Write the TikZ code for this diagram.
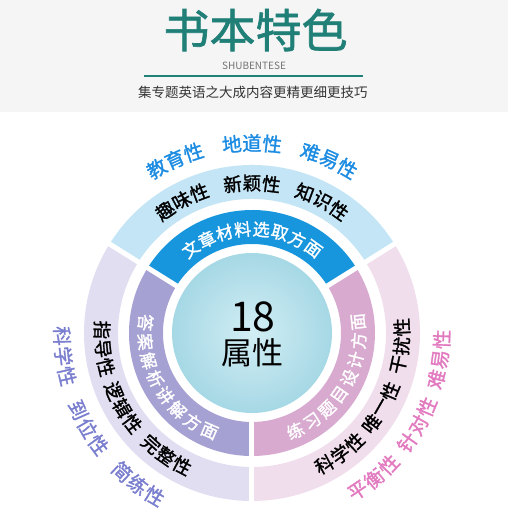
\documentclass[tikz,border=0pt]{standalone}
\usepackage{fontspec}
\setmainfont{Noto Sans CJK SC}
\newfontfamily\semifont{Noto Sans CJK SC}[FakeBold=1.4]
\usetikzlibrary{positioning}
\definecolor{headteal}{RGB}{32,128,120}
\definecolor{headgray}{RGB}{245,245,245}
\definecolor{bandblue}{RGB}{24,150,221}
\definecolor{bandpurple}{RGB}{166,161,211}
\definecolor{bandpink}{RGB}{216,170,208}
\definecolor{ringblue}{RGB}{196,229,246}
\definecolor{ringpurple}{RGB}{225,222,241}
\definecolor{ringpink}{RGB}{241,222,237}
\definecolor{wordblue}{RGB}{28,140,226}
\definecolor{wordpurple}{RGB}{122,126,206}
\definecolor{wordpink}{RGB}{226,122,192}
\newcommand{\sector}[5]{\fill[#1] (#2:#4) arc[start angle=#2, end angle=#3, radius=#4] -- (#3:#5) arc[start angle=#3, end angle=#2, radius=#5] -- cycle}
\newcommand{\topword}[6]{\foreach \ch [count=\i, evaluate=\i as \a using {#2+((#4+1)/2-\i)*#3}] in {#6} \node[#5, rotate=\a-90] at (\a:#1) {\ch};}
\newcommand{\botword}[6]{\foreach \ch [count=\i, evaluate=\i as \a using {#2-((#4+1)/2-\i)*#3}] in {#6} \node[#5, rotate=\a+90] at (\a:#1) {\ch};}
\begin{document}
\begin{tikzpicture}[
        x=1pt, y=1pt,
        every node/.style={inner sep=0pt},
        bandtext/.style={text=white, font=\semifont\fontsize{17}{17}\selectfont},
        ringtext/.style={text=black, font=\semifont\fontsize{18.5}{18.5}\selectfont},
        outtext/.style={font=\semifont\fontsize{19.5}{19.5}\selectfont},
        gap/.style={draw=white, line width=5pt}
      ]
      \useasboundingbox (-252,-187) rectangle (256,333);
      % header
      \fill[headgray] (-252,221) rectangle (256,333);
      \node (title) at (3.5,303) [text=headteal, font=\semifont\fontsize{46}{46}\selectfont] {书本特色};
      \node (pinyin) at (2,267) [text=black!55, font=\fontsize{10}{10}\selectfont] {SHUBENTESE};
      \coordinate (rulel) at (-108,257);
      \coordinate (ruler) at (111,257);
      \draw[headteal, line width=2pt] (rulel) -- (ruler);
      \node (slogan) at (1,241) [text=black!80, font=\fontsize{13.5}{13.5}\selectfont] {集专题英语之大成内容更精更细更技巧};
      % rings
      \sector{ringblue}{32}{148}{134}{168};
      \sector{ringpurple}{148}{270}{134}{168};
      \sector{ringpink}{270}{392}{134}{168};
      \sector{bandblue}{32}{148}{89}{123};
      \sector{bandpurple}{148}{270}{89}{123};
      \sector{bandpink}{270}{392}{89}{123};
      \foreach \g in {32,148,270}
        \draw[gap] (\g:85) -- (\g:172);
      % ball
      \shade[inner color={rgb,255:red,210;green,238;blue,244}, outer color={rgb,255:red,166;green,216;blue,229}] (0,0) circle[radius=80];
      \node (num) at (1,16) [font=\fontsize{41}{41}\selectfont] {18};
      \node (prop) at (1,-20) [font=\fontsize{31}{31}\selectfont] {属性};
      % inner band
      \topword{104}{90}{10.3}{8}{bandtext}{文,章,材,料,选,取,方,面}
      \botword{107}{210.5}{10.3}{8}{bandtext}{答,案,解,析,讲,解,方,面}
      \botword{107}{330}{10.3}{8}{bandtext}{练,习,题,目,设,计,方,面}
      % outer ring
      \topword{150}{118}{7.4}{3}{ringtext}{趣,味,性}
      \topword{150}{90}{7.4}{3}{ringtext}{新,颖,性}
      \topword{150}{62}{7.4}{3}{ringtext}{知,识,性}
      \botword{150}{186}{7.2}{3}{ringtext}{指,导,性}
      \botword{150}{210}{7.2}{3}{ringtext}{逻,辑,性}
      \botword{150}{235}{7.2}{3}{ringtext}{完,整,性}
      \botword{150}{306}{7.2}{3}{ringtext}{科,学,性}
      \botword{150}{330}{7.2}{3}{ringtext}{唯,一,性}
      \botword{150}{355}{7.2}{3}{ringtext}{干,扰,性}
      % outside
      \topword{190}{114}{6.1}{3}{outtext, text=wordblue}{教,育,性}
      \topword{190}{90}{6.1}{3}{outtext, text=wordblue}{地,道,性}
      \topword{190}{66}{6.1}{3}{outtext, text=wordblue}{难,易,性}
      \botword{190}{187}{6.1}{3}{outtext, text=wordpurple}{科,学,性}
      \botword{190}{210}{6.1}{3}{outtext, text=wordpurple}{到,位,性}
      \botword{190}{233}{6.1}{3}{outtext, text=wordpurple}{简,练,性}
      \botword{190}{310}{6.1}{3}{outtext, text=wordpink}{平,衡,性}
      \botword{190}{331}{6.1}{3}{outtext, text=wordpink}{针,对,性}
      \botword{190}{352}{6.1}{3}{outtext, text=wordpink}{难,易,性}
    \end{tikzpicture}
\end{document}
